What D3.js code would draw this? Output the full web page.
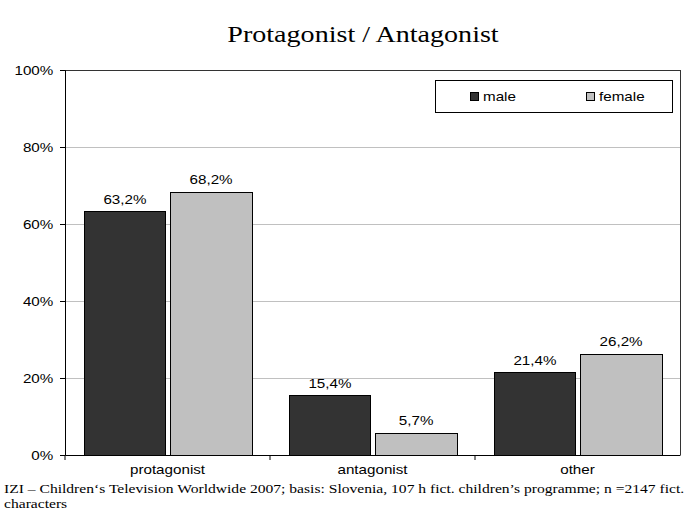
<!DOCTYPE html>
<html><head><meta charset="utf-8">
<script src="https://cdn.jsdelivr.net/npm/d3@7"></script>
<style>body{margin:0;background:#fff}svg{display:block}</style>
</head><body>
<script>
const categories = ["protagonist", "antagonist", "other"];
const seriesNames = ["male", "female"];
const male = [63.2, 15.4, 21.4];
const female = [68.2, 5.7, 26.2];
const yTicks = [0, 20, 40, 60, 80, 100];
const colors = ["#333333", "#c0c0c0"];
const title = "Protagonist / Antagonist";
const footer1 = "IZI \u2013 Children\u2018s Television Worldwide 2007; basis: Slovenia, 107 h fict. children\u2019s programme; n =2147 fict.";
const footer2 = "characters";

const W = 686, H = 518;
const SX = 1.17;
const SANS = "Liberation Sans, Arial, sans-serif";
const SERIF = "Liberation Serif, Times New Roman, serif";
const m = {left: 65, right: 6, top: 70, bottom: 63};
const svg = d3.select("body").append("svg").attr("width", W).attr("height", H);
const pw = W - m.left - m.right, ph = H - m.top - m.bottom;
const g = svg.append("g").attr("transform", `translate(${m.left},${m.top})`);

function stext(parent, x, y, txt, opts) {
  const t = parent.append("text")
    .attr("transform", `translate(${x},${y}) scale(${opts.sx || SX},1)`)
    .attr("text-anchor", opts.anchor || "start")
    .attr("font-family", opts.family || SANS)
    .attr("font-size", opts.size || 13)
    .attr("fill", "#000").text(txt);
  return t;
}

const x0 = d3.scaleBand().domain(categories).range([0, pw]).paddingInner(0).paddingOuter(0);
const x1 = d3.scaleBand().domain(seriesNames).range([19, x0.bandwidth() - 18]).paddingInner(0.05);
const y = d3.scaleLinear().domain([0, 100]).range([ph, 0]);

// gridlines
g.selectAll(".grid").data(yTicks.filter(t => t > 0 && t < 100)).enter().append("line")
  .attr("x1", 0).attr("x2", pw).attr("y1", d => y(d)).attr("y2", d => y(d))
  .attr("stroke", "#c0c0c0").attr("stroke-width", 1).attr("shape-rendering", "crispEdges");
// plot border top/right
g.append("line").attr("x1", 0).attr("x2", pw).attr("y1", 0).attr("y2", 0).attr("stroke", "#333").attr("shape-rendering", "crispEdges");
g.append("line").attr("x1", pw).attr("x2", pw).attr("y1", 0).attr("y2", ph).attr("stroke", "#333").attr("shape-rendering", "crispEdges");

const data = categories.map((c, i) => ({cat: c, vals: [{s: "male", v: male[i]}, {s: "female", v: female[i]}]}));
const fmt = v => v.toFixed(1).replace(".", ",") + "%";

const grp = g.selectAll(".cat").data(data).enter().append("g").attr("transform", d => `translate(${x0(d.cat)},0)`);
grp.selectAll("rect").data(d => d.vals).enter().append("rect")
  .attr("x", d => x1(d.s)).attr("width", x1.bandwidth())
  .attr("y", d => y(d.v)).attr("height", d => ph - y(d.v))
  .attr("fill", (d, i) => colors[i]).attr("stroke", "#000").attr("stroke-width", 1).attr("shape-rendering", "crispEdges");
grp.each(function(d) {
  const gg = d3.select(this);
  d.vals.forEach(v => {
    stext(gg, x1(v.s) + x1.bandwidth() / 2, y(v.v) - 8, fmt(v.v), {anchor: "middle"});
  });
});

// y axis
const yAxis = g.append("g").call(d3.axisLeft(y).tickValues(yTicks).tickSize(5).tickPadding(5).tickFormat(d => d + "%"));
yAxis.select(".domain").attr("stroke", "#000");
yAxis.selectAll("text").attr("font-family", SANS).attr("font-size", 13).attr("fill", "#000")
  .attr("transform", `scale(${SX},1)`);
yAxis.selectAll(".tick line").attr("stroke", "#000");

// x axis
const xAxis = g.append("g").attr("transform", `translate(0,${ph})`)
  .call(d3.axisBottom(x0).tickSize(0).tickPadding(10));
xAxis.select(".domain").attr("stroke", "#000");
xAxis.selectAll("text").attr("font-family", SANS).attr("font-size", 13).attr("fill", "#000")
  .attr("transform", `scale(${SX},1)`);
// category separators
g.selectAll(".sep").data(categories.slice(1)).enter().append("line")
  .attr("x1", d => x0(d)).attr("x2", d => x0(d)).attr("y1", ph).attr("y2", ph + 5).attr("stroke", "#000");
g.append("line").attr("x1", 0).attr("x2", 0).attr("y1", ph).attr("y2", ph + 5).attr("stroke", "#000");

// title
stext(svg, 363, 42, title, {anchor: "middle", family: SERIF, size: 24});

// legend
const lg = svg.append("g").attr("transform", "translate(435,80)");
lg.append("rect").attr("width", 237).attr("height", 32).attr("fill", "#fff").attr("stroke", "#000").attr("shape-rendering", "crispEdges");
const legX = [35, 151];
seriesNames.forEach((s, i) => {
  lg.append("rect").attr("x", legX[i]).attr("y", 12).attr("width", 8).attr("height", 8)
    .attr("fill", colors[i]).attr("stroke", "#000").attr("shape-rendering", "crispEdges");
  stext(lg, legX[i] + 13, 21, s, {});
});

// footer
stext(svg, 4, 493, footer1, {family: SERIF, size: 13, sx: 1.2});
stext(svg, 4, 508, footer2, {family: SERIF, size: 13, sx: 1.2});
</script>
</body></html>
